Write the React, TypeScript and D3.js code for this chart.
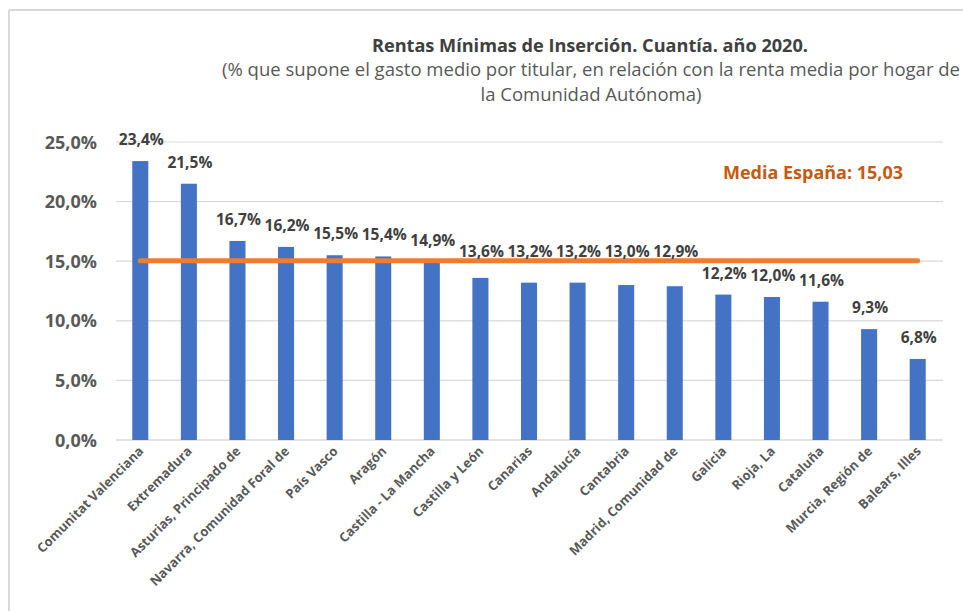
import React from "react";
import * as d3 from "d3";

const categories = [
  "Comunitat Valenciana",
  "Extremadura",
  "Asturias, Principado de",
  "Navarra, Comunidad Foral de",
  "País Vasco",
  "Aragón",
  "Castilla - La Mancha",
  "Castilla y León",
  "Canarias",
  "Andalucía",
  "Cantabria",
  "Madrid, Comunidad de",
  "Galicia",
  "Rioja, La",
  "Cataluña",
  "Murcia, Región de",
  "Balears, Illes",
];
const values = [23.4, 21.5, 16.7, 16.2, 15.5, 15.4, 14.9, 13.6, 13.2, 13.2, 13.0, 12.9, 12.2, 12.0, 11.6, 9.3, 6.8];
const mediaEspana = 15.03;
const yTicks = [0, 5, 10, 15, 20, 25];

const W = 963;
const H = 611;
const FONT = "'Open Sans', Carlito, Calibri, sans-serif";

export default function App() {
  const x = d3.scaleBand<string>().domain(categories).range([116, 942]).paddingInner(0.67).paddingOuter(0.335);
  const y = d3.scaleLinear().domain([0, 25]).range([440, 142]);
  const fmt = (v: number) => v.toFixed(1).replace(".", ",") + "%";
  const cx = (c: string) => (x(c) as number) + x.bandwidth() / 2;
  const first = categories[0];
  const last = categories[categories.length - 1];
  const lineY = y(mediaEspana);
  const labelY = (v: number) => {
    const d = y(v) - 16;
    return d > lineY - 6 && d < lineY + 12 ? lineY - 4 : d;
  };

  return (
    <svg width={W} height={H} style={{ position: "absolute", left: 0, top: 0, background: "#fff" }} fontFamily={FONT}>
      <rect x={0} y={0} width={W} height={H} fill="#fff" />
      <line x1={9} y1={10} x2={W} y2={10} stroke="#d9d9d9" strokeWidth={2} />
      <line x1={9} y1={10} x2={9} y2={H} stroke="#d9d9d9" strokeWidth={2} />

      <text x={590} y={52} textAnchor="middle" fontSize={18} fontWeight="bold" fill="#404040" textLength={436} lengthAdjust="spacingAndGlyphs">
        Rentas Mínimas de Inserción. Cuantía. año 2020.
      </text>
      <text x={591} y={76} textAnchor="middle" fontSize={18.5} fill="#595959" textLength={738} lengthAdjust="spacingAndGlyphs">
        (% que supone el gasto medio por titular, en relación con la renta media por hogar de
      </text>
      <text x={591} y={101} textAnchor="middle" fontSize={18.5} fill="#595959">
        la Comunidad Autónoma)
      </text>

      {yTicks.map((t) => (
        <g key={t}>
          <line x1={116} x2={943} y1={y(t)} y2={y(t)} stroke="#d9d9d9" strokeWidth={t === 0 ? 1.5 : 1.2} />
          <text x={97} y={y(t) + 6.5} textAnchor="end" fontSize={18} fontWeight="bold" fill="#595959">
            {fmt(t)}
          </text>
        </g>
      ))}

      {categories.map((c, i) => (
        <rect key={c} x={x(c)} y={y(values[i])} width={x.bandwidth()} height={y(0) - y(values[i])} fill="#4472C4" />
      ))}

      <line
        x1={cx(first)}
        x2={cx(last)}
        y1={lineY}
        y2={lineY}
        stroke="#ED7D31"
        strokeWidth={5}
        strokeLinecap="round"
      />

      {categories.map((c, i) => (
        <text key={c} x={cx(c) + 1} y={labelY(values[i])} textAnchor="middle" fontSize={15.5} fontWeight="bold" fill="#404040">
          {fmt(values[i])}
        </text>
      ))}

      <text x={813} y={179} textAnchor="middle" fontSize={18} fontWeight="bold" fill="#C55A11">
        Media España: 15,03
      </text>

      {categories.map((c) => (
        <text
          key={c}
          transform={`translate(${cx(c) + 4},${452}) rotate(-45)`}
          textAnchor="end"
          fontSize={13}
          fontWeight="bold"
          fill="#595959"
        >
          {c}
        </text>
      ))}
    </svg>
  );
}
